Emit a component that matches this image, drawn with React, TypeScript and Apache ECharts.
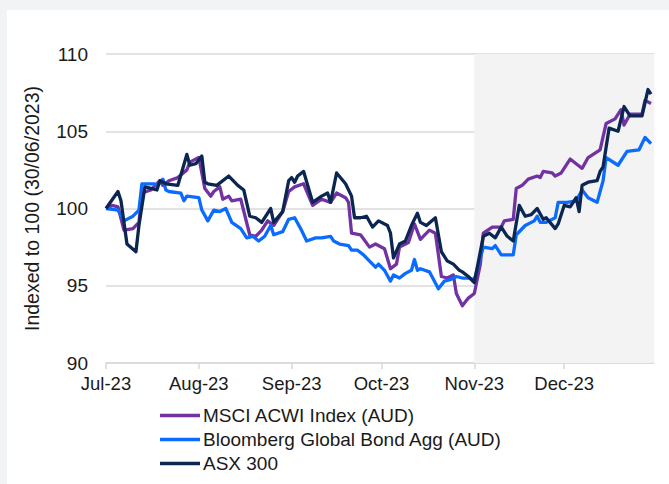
import React, { useEffect, useRef } from "react";
import * as echarts from "echarts";

// Day offsets count from 1 Jul 2023 (day 0); values are indexed to 100 at 30/06/2023.
const msciDays = [0, 2, 4, 6, 9, 11, 12, 15, 18, 19, 21, 24, 27, 28, 31, 33, 35, 36, 38, 39, 41, 42, 45, 48, 50, 52, 54, 56, 59, 61, 63, 66, 69, 72, 75, 77, 80, 81, 82, 85, 88, 90, 93, 95, 97, 98, 101, 103, 105, 108, 110, 112, 114, 116, 117, 119, 121, 123, 125, 126, 129, 132, 133, 136, 137, 139, 141, 144, 145, 146, 149, 150, 152, 155, 157, 159, 161, 165, 167, 170, 172, 173, 175, 179, 180, 182];
const msciValues = [100.0, 100.2, 100.1, 98.6, 98.7, 99.1, 101.0, 101.2, 101.8, 101.5, 101.8, 102.0, 102.5, 103.0, 103.3, 101.3, 100.8, 101.1, 101.4, 100.6, 100.8, 100.5, 100.6, 98.3, 98.2, 98.6, 99.2, 98.9, 99.8, 101.1, 101.4, 101.6, 100.2, 100.6, 100.4, 101.0, 100.7, 100.4, 98.4, 98.3, 97.5, 97.7, 97.4, 96.1, 96.4, 97.5, 97.8, 99.0, 98.0, 98.6, 98.4, 95.6, 95.5, 95.7, 94.5, 93.7, 94.2, 94.5, 96.4, 98.4, 98.8, 98.8, 99.2, 99.3, 101.3, 101.5, 101.9, 102.1, 102.0, 102.4, 102.3, 102.1, 102.3, 103.2, 102.9, 102.6, 103.3, 103.8, 105.5, 105.8, 106.4, 105.4, 106.1, 106.1, 107.0, 106.8];

const bondDays = [0, 4, 6, 9, 11, 12, 16, 17, 19, 20, 21, 25, 26, 27, 31, 32, 34, 36, 38, 40, 42, 45, 47, 49, 51, 53, 55, 56, 59, 61, 63, 65, 67, 70, 72, 75, 76, 78, 81, 82, 84, 86, 88, 90, 91, 93, 95, 96, 98, 100, 102, 103, 104, 105, 108, 111, 113, 115, 117, 119, 121, 123, 126, 129, 130, 132, 136, 137, 140, 143, 144, 145, 147, 150, 151, 154, 157, 159, 161, 164, 166, 167, 171, 174, 178, 180, 182];
const bondValues = [100.0, 99.9, 99.2, 99.5, 99.9, 101.6, 101.6, 101.5, 101.9, 101.2, 101.1, 101.0, 100.5, 100.8, 100.7, 99.9, 99.2, 99.9, 99.8, 100.0, 99.1, 98.7, 98.1, 98.2, 97.9, 98.2, 98.9, 98.3, 98.5, 99.3, 99.4, 98.7, 97.9, 98.1, 98.1, 98.2, 97.9, 97.7, 97.6, 97.3, 97.3, 97.0, 96.6, 96.2, 96.4, 96.0, 95.3, 95.7, 95.5, 95.8, 96.0, 96.7, 96.0, 96.1, 95.9, 94.8, 95.3, 95.4, 95.6, 95.5, 95.5, 95.4, 97.5, 97.4, 97.6, 97.0, 97.0, 98.3, 98.9, 99.2, 99.5, 99.1, 99.1, 99.4, 100.4, 100.4, 100.5, 101.2, 100.7, 100.4, 101.8, 103.3, 102.8, 103.7, 103.8, 104.6, 104.2];

const asxDays = [0, 4, 5, 7, 10, 11, 13, 17, 18, 20, 24, 27, 28, 30, 32, 33, 34, 37, 41, 44, 46, 48, 50, 52, 55, 56, 59, 61, 62, 63, 64, 66, 69, 72, 74, 75, 77, 80, 82, 83, 85, 87, 89, 91, 94, 95, 96, 98, 100, 102, 104, 105, 107, 110, 112, 114, 116, 118, 119, 121, 123, 126, 128, 130, 132, 134, 136, 138, 140, 142, 144, 146, 147, 150, 151, 153, 155, 156, 157, 158, 159, 161, 164, 165, 166, 168, 171, 173, 175, 179, 181, 182];
const asxValues = [100.0, 101.1, 100.5, 97.7, 97.2, 98.9, 101.4, 101.2, 101.8, 101.6, 101.5, 103.5, 102.8, 102.9, 103.4, 101.7, 101.6, 101.5, 102.1, 101.5, 101.2, 99.5, 99.4, 99.1, 100.0, 99.1, 99.8, 101.8, 102.0, 101.7, 102.1, 102.4, 100.4, 100.8, 101.0, 100.4, 102.3, 101.6, 100.8, 99.4, 99.4, 99.5, 98.8, 99.2, 98.9, 98.4, 96.8, 97.7, 97.9, 98.9, 99.7, 99.1, 98.9, 99.4, 97.2, 96.6, 96.4, 96.0, 95.9, 95.6, 95.2, 98.2, 98.4, 98.1, 98.8, 98.2, 97.9, 100.2, 99.5, 99.6, 100.0, 99.3, 99.4, 98.7, 99.0, 100.2, 100.1, 100.4, 100.7, 99.8, 101.5, 101.7, 101.8, 102.4, 102.7, 105.2, 105.0, 106.6, 106.0, 106.0, 107.7, 107.4];

const seriesNames = ["MSCI ACWI Index (AUD)", "Bloomberg Global Bond Agg (AUD)", "ASX 300"];
const monthTickLabels = ["Jul-23", "Aug-23", "Sep-23", "Oct-23", "Nov-23", "Dec-23"];
const axisStartDay = 0; // 1 Jul 2023
const axisEndDay = 183; // 31 Dec 2023
const shadeStartDay = 123; // 1 Nov 2023
const yMin = 90;
const yMax = 110;
const yStep = 5;
const yAxisTitle = "Indexed to 100 (30/06/2023)";

const COLORS = ["#7232A3", "#0A6BFF", "#0B2650"];
const FONT = "'Liberation Sans', Arial, Helvetica, sans-serif";

const toTime = (d: number) => new Date(2023, 6, 1 + d).getTime();
const pairs = (days: number[], vals: number[]) => days.map((d, i) => [toTime(d), vals[i]]);

export default function App() {
  const ref = useRef<HTMLDivElement>(null);

  useEffect(() => {
    if (!ref.current) return;
    const chart = echarts.init(ref.current, null, { renderer: "svg" });
    const datasets = [
      pairs(msciDays, msciValues),
      pairs(bondDays, bondValues),
      pairs(asxDays, asxValues),
    ];
    chart.setOption({
      animation: false,
      backgroundColor: "#ffffff",
      grid: { left: 99, right: 15, top: 44, bottom: 121 },
      legend: {
        orient: "vertical",
        left: 148,
        top: 391,
        itemWidth: 40,
        itemHeight: 3.5,
        itemGap: 5,
        icon: "rect",
        data: seriesNames.map((n, i) => ({
          name: n,
          itemStyle: { color: COLORS[i] },
        })),
        textStyle: { fontFamily: FONT, fontSize: 19, color: "#1a1a1a", padding: [0, 0, 0, -2] },
        selectedMode: false,
      },
      xAxis: {
        type: "time",
        min: toTime(axisStartDay),
        max: toTime(axisEndDay),
        splitNumber: 6,
        minInterval: 28 * 86400000,
        maxInterval: 31 * 86400000,
        axisLine: { show: true, lineStyle: { color: "#D9D9D9", width: 1.5 } },
        axisTick: { show: true, length: 6, lineStyle: { color: "#D9D9D9", width: 1.5 } },
        splitLine: { show: false },
        axisLabel: {
          fontFamily: FONT,
          fontSize: 18.5,
          color: "#1a1a1a",
          margin: 11,
          showMaxLabel: false,
          formatter: (val: number) => {
            const m = new Date(val).getMonth() - 6;
            return monthTickLabels[m] ?? "";
          },
        },
      },
      yAxis: {
        type: "value",
        min: yMin,
        max: yMax,
        interval: yStep,
        name: yAxisTitle,
        nameLocation: "middle",
        nameGap: 64,
        nameTextStyle: { fontFamily: FONT, fontSize: 19.5, color: "#1a1a1a" },
        axisLine: { show: false },
        axisTick: { show: false },
        splitLine: { lineStyle: { color: "#D9D9D9", width: 1.5 } },
        axisLabel: { fontFamily: FONT, fontSize: 19, color: "#1a1a1a", margin: 18 },
      },
      series: seriesNames.map((name, i) => ({
        name,
        type: "line",
        data: datasets[i],
        symbol: "none",
        showSymbol: false,
        lineStyle: { color: COLORS[i], width: 3.3, join: "round" },
        itemStyle: { color: COLORS[i] },
        z: 3 + i,
        markArea:
          i === 0
            ? {
                silent: true,
                itemStyle: { color: "#F3F3F4" },
                data: [[{ xAxis: toTime(shadeStartDay) }, { xAxis: toTime(axisEndDay) }]],
              }
            : undefined,
      })),
    });
    return () => chart.dispose();
  }, []);

  return (
    <div style={{ position: "fixed", inset: 0, background: "#F2F3F5" }}>
      <div
        ref={ref}
        style={{ position: "absolute", left: 7, top: 10, width: 662, height: 474, background: "#fff" }}
      />
    </div>
  );
}
